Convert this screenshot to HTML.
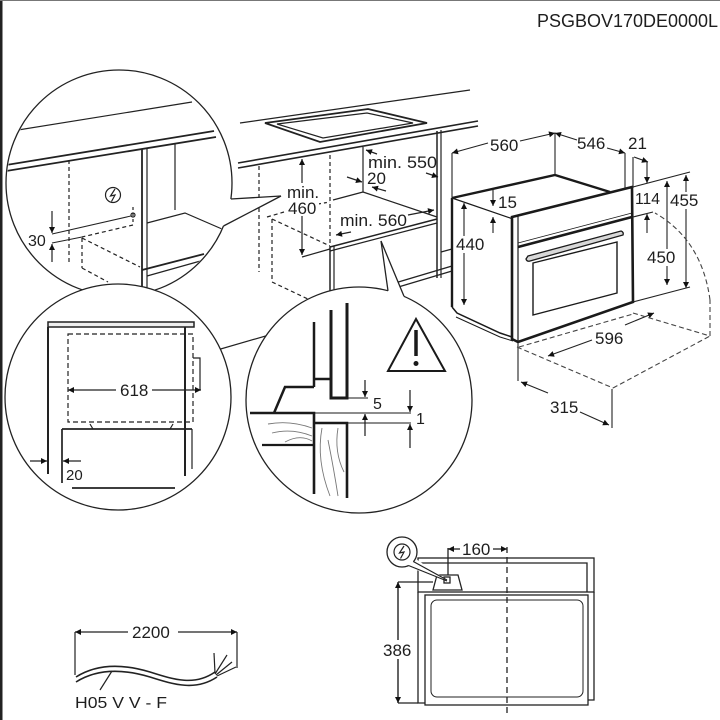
<!DOCTYPE html>
<html><head><meta charset="utf-8"><style>
html,body{margin:0;padding:0;background:#fff;}
svg{display:block;}
text{font-family:"Liberation Sans",Arial,sans-serif;fill:#1e1e1e;}
</style></head><body>
<svg width="720" height="720" viewBox="0 0 720 720" xmlns="http://www.w3.org/2000/svg">
<defs>
<marker id="ar" viewBox="0 0 10 10" refX="10" refY="5" markerWidth="9" markerHeight="6" markerUnits="userSpaceOnUse" orient="auto-start-reverse"><path d="M0,0L10,5L0,10z" fill="#111"/></marker>
<clipPath id="c1"><circle cx="119" cy="183" r="112"/></clipPath>
<clipPath id="c2"><circle cx="118" cy="397" r="112"/></clipPath>
<clipPath id="c3"><circle cx="359" cy="400" r="112"/></clipPath>
</defs>
<rect width="720" height="720" fill="#fff"/>
<rect x="0" y="0" width="2.5" height="720" fill="#222"/>
<rect x="0" y="0" width="720" height="1" fill="#777"/>

<text x="537" y="27" font-size="18" textLength="181" lengthAdjust="spacingAndGlyphs">PSGBOV170DE0000L</text>

<!-- ================= MAIN SCENE ================= -->
<g stroke="#222" stroke-width="1.2" fill="none">
<line x1="240" y1="123" x2="470" y2="90"/>
<line x1="238" y1="163" x2="478" y2="121" stroke-width="1.6"/>
<line x1="238" y1="168" x2="478" y2="126" stroke-width="1.6"/>
<path d="M265,123 L368,109 L427,123 L320,142 Z" stroke-width="1.8"/>
<path d="M277,124 L367,113 L413,123 L323,138 Z"/>
<!-- left hidden cabinet -->
<line x1="259" y1="166" x2="259" y2="272" stroke-dasharray="4,3"/>
<line x1="330" y1="155" x2="330" y2="247" stroke-dasharray="4,3"/>
<line x1="267" y1="217" x2="284" y2="212" stroke-dasharray="4,3"/>
<line x1="272" y1="219" x2="272" y2="282" stroke-dasharray="4,3"/>
<line x1="272" y1="219" x2="330" y2="246" stroke-dasharray="4,3"/>
<line x1="272" y1="282" x2="310" y2="300" stroke-dasharray="4,3"/>
<line x1="318" y1="204" x2="330" y2="202" stroke-dasharray="3,3"/>
<!-- niche -->
<line x1="330" y1="247" x2="330" y2="320" stroke-width="1.5"/>
<line x1="334" y1="246" x2="334" y2="320"/>
<line x1="437" y1="131" x2="437" y2="278" stroke-width="1.5"/>
<line x1="441" y1="130" x2="441" y2="278"/>
<line x1="363" y1="147" x2="363" y2="192"/>
<line x1="333" y1="200" x2="363" y2="192"/>
<line x1="363" y1="192" x2="437" y2="217"/>
<line x1="330" y1="247" x2="437" y2="219" stroke-width="1.5"/>
<line x1="330" y1="251" x2="437" y2="223"/>
<line x1="302" y1="257" x2="330" y2="249"/>
<line x1="441" y1="252" x2="452" y2="249"/>
<line x1="395" y1="283" x2="452" y2="266" stroke-width="1.4"/>
<line x1="395" y1="288" x2="452" y2="271"/>
<line x1="200" y1="355" x2="300" y2="326"/>
<!-- dims -->
<line x1="302" y1="206" x2="302" y2="159" marker-end="url(#ar)"/>
<line x1="302" y1="206" x2="302" y2="255" marker-end="url(#ar)"/>
<line x1="377" y1="154" x2="366" y2="150" marker-end="url(#ar)"/>
<line x1="426" y1="173" x2="438" y2="177" marker-end="url(#ar)"/>
<line x1="347" y1="177" x2="362" y2="182" marker-end="url(#ar)"/>
<line x1="386" y1="191" x2="372" y2="187" marker-end="url(#ar)"/>
<line x1="351" y1="232" x2="336" y2="235" marker-end="url(#ar)"/>
<line x1="408" y1="215" x2="434" y2="210" marker-end="url(#ar)"/>
</g>
<rect x="285" y="183" width="34" height="33" fill="#fff"/>
<text x="287" y="198" font-size="17">min.</text>
<text x="288" y="214" font-size="17">460</text>
<text x="368" y="168" font-size="17" textLength="69" lengthAdjust="spacingAndGlyphs">min. 550</text>
<text x="367" y="184" font-size="17">20</text>
<text x="340" y="226" font-size="17" textLength="67" lengthAdjust="spacingAndGlyphs">min. 560</text>

<!-- ================= OVEN ================= -->
<g stroke="#1a1a1a" fill="none">
<path d="M452,198 L555,175 L610,192" stroke-width="2.4"/>
<line x1="452" y1="198" x2="513" y2="219" stroke-width="1.2"/>
<line x1="452" y1="198" x2="452" y2="307" stroke-width="2.4"/>
<path d="M452,307 L457,313 L500,333 L512,337" stroke-width="1.5"/>
<path d="M456,317 L500,337 L513,341" stroke-width="1"/>
<path d="M512,217 L632,187 L633,302 L518,342 L512,339 Z" stroke-width="2.6" fill="#fff"/>
<line x1="518" y1="216" x2="518" y2="342" stroke-width="1.2"/>
<line x1="518" y1="247" x2="632" y2="217" stroke-width="2.6"/>
<line x1="518" y1="243" x2="632" y2="213" stroke-width="0.8"/>
<path d="M528,256 L621,231 Q624,232 623,235 L530,261 Q527,262 526,259 Z" stroke-width="1.3" fill="#d8d8d8"/>
<path d="M533,263 L617,242 L617,293 L533,315 Z" stroke-width="1.4"/>
</g>
<!-- oven dims -->
<g stroke="#222" stroke-width="1.1" fill="none">
<line x1="452" y1="153" x2="452" y2="198"/>
<line x1="555" y1="133" x2="555" y2="175"/>
<line x1="488" y1="143" x2="452" y2="153" marker-end="url(#ar)"/>
<line x1="520" y1="141" x2="555" y2="133" marker-end="url(#ar)"/>
<line x1="577" y1="140" x2="555" y2="133" marker-end="url(#ar)"/>
<line x1="607" y1="148" x2="625" y2="153" marker-end="url(#ar)"/>
<line x1="625" y1="153" x2="625" y2="190"/>
<line x1="633" y1="157" x2="633" y2="188"/>
<line x1="634" y1="157" x2="648" y2="162" marker-end="url(#ar)"/>
<line x1="647" y1="162" x2="647" y2="183" marker-end="url(#ar)"/>
<line x1="647" y1="233" x2="647" y2="214" marker-end="url(#ar)"/>
<line x1="633" y1="217" x2="653" y2="212"/>
<line x1="633" y1="187" x2="690" y2="172"/>
<line x1="633" y1="302" x2="690" y2="287"/>
<line x1="686" y1="175" x2="686" y2="288" marker-start="url(#ar)" marker-end="url(#ar)"/>
<line x1="667" y1="181" x2="667" y2="285" marker-start="url(#ar)" marker-end="url(#ar)"/>
<line x1="464" y1="203" x2="464" y2="305" marker-start="url(#ar)" marker-end="url(#ar)"/>
<line x1="493" y1="189" x2="493" y2="206" marker-end="url(#ar)"/>
<line x1="493" y1="233" x2="493" y2="217" marker-end="url(#ar)"/>
<line x1="592" y1="340" x2="548" y2="356" marker-end="url(#ar)"/>
<line x1="625" y1="325" x2="654" y2="313" marker-end="url(#ar)"/>
<line x1="518" y1="343" x2="518" y2="381"/>
<line x1="612" y1="389" x2="612" y2="428"/>
<line x1="548" y1="393" x2="521" y2="382" marker-end="url(#ar)"/>
<line x1="580" y1="412" x2="609" y2="425" marker-end="url(#ar)"/>
<g stroke-dasharray="5,3" stroke="#444">
<line x1="517" y1="347" x2="613" y2="388"/>
<line x1="613" y1="388" x2="710" y2="336"/>
<line x1="710" y1="336" x2="710" y2="300"/>
<path d="M710,300 Q702,240 655,213"/>
<line x1="633" y1="313" x2="710" y2="336"/>
<line x1="519" y1="347" x2="633" y2="314"/>
</g>
</g>
<rect x="455" y="236" width="32" height="17" fill="#fff"/>
<rect x="669" y="192" width="30" height="17" fill="#fff"/>
<rect x="646" y="249" width="30" height="17" fill="#fff"/>
<text x="490" y="151" font-size="17">560</text>
<text x="577" y="149" font-size="17">546</text>
<text x="628" y="149" font-size="17">21</text>
<text x="498" y="208" font-size="17">15</text>
<text x="456" y="250" font-size="17">440</text>
<text x="635" y="204" font-size="16" textLength="25" lengthAdjust="spacingAndGlyphs">114</text>
<text x="670" y="206" font-size="17">455</text>
<text x="647" y="263" font-size="17">450</text>
<text x="595" y="344" font-size="17">596</text>
<text x="550" y="413" font-size="17">315</text>

<!-- ================= CIRCLE 1 ================= -->
<circle cx="119" cy="183" r="113" fill="#fff" stroke="#222" stroke-width="1.3"/>
<path d="M230.9,199 L281,196 L223.5,226 Z" fill="#fff"/>
<path d="M230.9,199 A113,113 0 0 1 223.5,226" stroke="#fff" stroke-width="3" fill="none"/>
<line x1="230.9" y1="199" x2="281" y2="196" stroke="#222" stroke-width="1.3"/>
<line x1="223.5" y1="226" x2="281" y2="196" stroke="#222" stroke-width="1.3"/>
<g clip-path="url(#c1)" stroke="#222" stroke-width="1.2" fill="none">
<line x1="18" y1="130" x2="192" y2="102"/>
<line x1="0" y1="166" x2="214" y2="131" stroke-width="1.8"/>
<line x1="0" y1="172" x2="216" y2="137" stroke-width="1.8"/>
<line x1="69" y1="160" x2="69" y2="262" stroke-dasharray="4,3"/>
<line x1="142" y1="149" x2="142" y2="290" stroke-width="1.8"/>
<line x1="147" y1="148" x2="147" y2="290"/>
<line x1="175" y1="143" x2="175" y2="210"/>
<path d="M147,223 L185,213 L222,229"/>
<line x1="142" y1="270" x2="204" y2="254" stroke-width="1.8"/>
<line x1="147" y1="276" x2="204" y2="260"/>
<circle cx="113" cy="195" r="7.5"/>
<path d="M115,189 L110.5,196 L115,195 L111.5,201.5"/>
<circle cx="133" cy="215" r="2"/>
<line x1="131" y1="216" x2="52" y2="234" stroke-width="1"/>
<line x1="133" y1="207" x2="133" y2="225" stroke-dasharray="3,3"/>
<line x1="133" y1="225" x2="82" y2="237" stroke-dasharray="4,3"/>
<line x1="82" y1="237" x2="52" y2="243" stroke-width="1"/>
<line x1="82" y1="238" x2="82" y2="268" stroke-dasharray="4,3"/>
<line x1="82" y1="238" x2="140" y2="267" stroke-dasharray="4,3"/>
<line x1="82" y1="268" x2="108" y2="282" stroke-dasharray="4,3"/>
<line x1="52" y1="211" x2="52" y2="233" marker-end="url(#ar)"/>
<line x1="52" y1="262" x2="52" y2="244" marker-end="url(#ar)"/>
</g>
<text x="28" y="246" font-size="16">30</text>

<!-- ================= CIRCLE 2 ================= -->
<circle cx="118" cy="397" r="113" fill="#fff" stroke="#222" stroke-width="1.3"/>
<g clip-path="url(#c2)" stroke="#222" stroke-width="1.2" fill="none">
<rect x="48" y="322" width="146" height="5" stroke-width="1.5" fill="#eee"/>
<line x1="48" y1="327" x2="48" y2="474" stroke-width="2"/>
<line x1="185" y1="327" x2="185" y2="476" stroke-width="2"/>
<rect x="68" y="334" width="125" height="88" stroke-dasharray="5,3"/>
<path d="M193,358 L200,358 L200,390"/>
<line x1="62" y1="429" x2="192" y2="429" stroke-width="1.7"/>
<line x1="62" y1="429" x2="62" y2="483" stroke-width="1.7"/>
<line x1="192" y1="429" x2="192" y2="469"/>
<line x1="90" y1="424" x2="93" y2="429"/>
<line x1="173" y1="424" x2="170" y2="429"/>
<line x1="72" y1="488" x2="175" y2="488" stroke-width="1.7"/>
<line x1="116" y1="390" x2="68" y2="390" marker-end="url(#ar)"/>
<line x1="152" y1="390" x2="201" y2="390" marker-end="url(#ar)"/>
<line x1="30" y1="461" x2="47" y2="461" marker-end="url(#ar)"/>
<line x1="81" y1="461" x2="63" y2="461" marker-end="url(#ar)"/>
</g>
<text x="120" y="396" font-size="17">618</text>
<text x="66" y="480" font-size="15">20</text>

<!-- ================= CIRCLE 3 ================= -->
<path d="M388,290.8 L381,241 L404,296.3 Z" fill="#fff"/>
<circle cx="359" cy="400" r="113" fill="#fff" stroke="#222" stroke-width="1.3"/>
<path d="M388,290.8 A113,113 0 0 1 404,296.3" stroke="#fff" stroke-width="3" fill="none"/>
<line x1="388" y1="290.8" x2="381" y2="241" stroke="#222" stroke-width="1.3"/>
<line x1="404" y1="296.3" x2="381" y2="241" stroke="#222" stroke-width="1.3"/>
<g clip-path="url(#c3)" stroke="#1a1a1a" stroke-width="1.2" fill="none">
<path d="M331,310 L331,398 L347,398 L347,303" stroke-width="3"/>
<path d="M314,322 L314,387" stroke-width="2.5"/>
<path d="M314,379 L331,379" stroke-width="2.5"/>
<path d="M314,387 L285,387 L274,413" stroke-width="2.5"/>
<path d="M250,413 L314,413 L314,494" stroke-width="2.6"/>
<path d="M314,423 L347,423 L347,498" stroke-width="2.6"/>
<line x1="262" y1="445" x2="314" y2="445" stroke-width="2.2"/>
<line x1="314" y1="413" x2="411" y2="413" stroke-width="0.9"/>
<line x1="347" y1="423" x2="411" y2="423" stroke-width="0.9"/>
<line x1="347" y1="398" x2="368" y2="398" stroke-width="0.9"/>
<line x1="365" y1="380" x2="365" y2="397" marker-end="url(#ar)"/>
<line x1="365" y1="436" x2="365" y2="414" marker-end="url(#ar)"/>
<line x1="410" y1="390" x2="410" y2="412" marker-end="url(#ar)"/>
<line x1="410" y1="448" x2="410" y2="424" marker-end="url(#ar)"/>
<g stroke="#777" stroke-width="0.9">
<path d="M268,424 Q290,420 312,428"/>
<path d="M272,433 Q292,428 312,436"/>
<path d="M285,442 Q300,434 312,441"/>
<path d="M322,428 Q316,460 330,496"/>
<path d="M328,440 Q334,470 338,496"/>
<path d="M338,428 Q334,452 344,472"/>
</g>
<polygon points="388,371 416,319 445,371" stroke-width="2" stroke-linejoin="miter"/>
<line x1="416" y1="330" x2="416" y2="356" stroke-width="3.5"/>
<circle cx="416" cy="363.5" r="2.5" fill="#1a1a1a" stroke="none"/>
</g>
<text x="373" y="409" font-size="16">5</text>
<text x="416" y="424" font-size="16">1</text>

<!-- ================= CABLE ================= -->
<g stroke="#222" stroke-width="1.2" fill="none">
<line x1="75" y1="632" x2="75" y2="675"/>
<line x1="237" y1="632" x2="237" y2="668"/>
<line x1="128" y1="632" x2="75" y2="632" marker-end="url(#ar)"/>
<line x1="178" y1="632" x2="237" y2="632" marker-end="url(#ar)"/>
<path d="M76,677 C95,665 120,663 150,672 C175,680 195,686 215,672" stroke-width="1.6"/>
<path d="M76,682 C95,670 120,668 150,677 C175,685 196,691 217,677" stroke-width="1.6"/>
<line x1="215" y1="673" x2="214" y2="653"/>
<line x1="215" y1="674" x2="227" y2="655"/>
<line x1="216" y1="675" x2="232" y2="662"/>
<line x1="217" y1="676" x2="236" y2="667"/>
<line x1="112" y1="671" x2="100" y2="690"/>
</g>
<text x="132" y="638" font-size="17">2200</text>
<text x="75" y="708" font-size="16" textLength="92" lengthAdjust="spacingAndGlyphs">H05 V V - F</text>

<!-- ================= FRONT VIEW ================= -->
<g stroke="#222" stroke-width="1.3" fill="none">
<rect x="418" y="558" width="176" height="34"/>
<path d="M418,563 L587,563 L587,592"/>
<path d="M418,592 L418,703 L425,703"/>
<path d="M594,592 L594,700 L588,700"/>
<rect x="425" y="595" width="163" height="110"/>
<rect x="431" y="600" width="152" height="97" rx="6" stroke-width="1"/>
<polygon points="433,590 437,575 458,575 462,590" fill="#fff"/>
<rect x="444" y="577" width="6" height="6"/>
<line x1="507" y1="547" x2="507" y2="714" stroke-dasharray="6,4"/>
<line x1="448" y1="548" x2="448" y2="575"/>
<line x1="460" y1="549" x2="448" y2="549" marker-end="url(#ar)"/>
<line x1="493" y1="549" x2="507" y2="549" marker-end="url(#ar)"/>
<line x1="398" y1="582" x2="433" y2="582"/>
<line x1="398" y1="703" x2="418" y2="703"/>
<line x1="398" y1="582" x2="398" y2="703" marker-start="url(#ar)" marker-end="url(#ar)" stroke-width="1.4"/>
</g>
<path d="M413,557 L447,580 L407,567 Z" fill="#fff"/>
<circle cx="402" cy="552" r="15" fill="#fff" stroke="#222" stroke-width="1.3"/>
<path d="M413.3,561.5 A15,15 0 0 1 408.5,565.5" stroke="#fff" stroke-width="3" fill="none"/>
<line x1="413.3" y1="561.5" x2="447" y2="580" stroke="#222" stroke-width="1.2"/>
<line x1="408.5" y1="565.5" x2="447" y2="581" stroke="#222" stroke-width="1.2"/>
<circle cx="402" cy="552" r="8" fill="none" stroke="#222" stroke-width="1.2"/>
<path d="M404,546 L399.5,553 L404,552 L400.5,558.5" stroke="#222" stroke-width="1.2" fill="none"/>
<rect x="383" y="640" width="31" height="19" fill="#fff"/>
<text x="383" y="656" font-size="17">386</text>
<text x="462" y="555" font-size="17">160</text>
</svg>
</body></html>
